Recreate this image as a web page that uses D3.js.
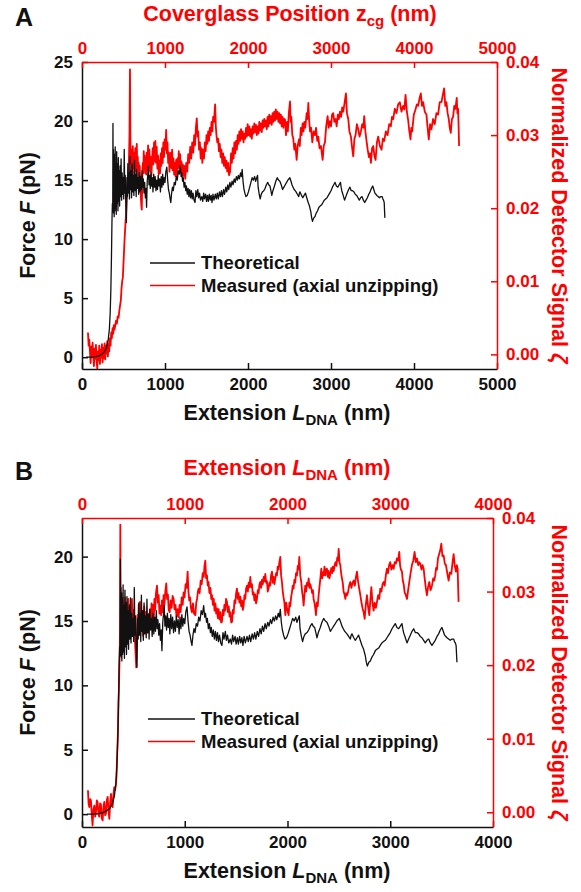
<!DOCTYPE html>
<html>
<head>
<meta charset="utf-8">
<script src="https://cdn.jsdelivr.net/npm/d3@7"></script>
<style>
  body { margin: 0; background: #fff; }
  svg text { font-family: "Liberation Sans", Arial, Helvetica, sans-serif; font-weight: bold; }
</style>
</head>
<body>
<svg id="fig" width="581" height="892"></svg>
<script>
// tick values
const forceTicksA = [0, 5, 10, 15, 20, 25];
const forceTicksB = [0, 5, 10, 15, 20];
const signalTicks = [0, 0.01, 0.02, 0.03, 0.04];
const extTicksA = [0, 1000, 2000, 3000, 4000, 5000];
const extTicksB = [0, 1000, 2000, 3000, 4000];

// theoretical force vs extension L_DNA (nm, pN) - same curve in both panels
const theoretical = [
  [50,0],[100,0],[150,0.03],[200,0.1],[240,0.25],[270,0.45],[295,0.8],[315,1.4],[330,2.4],[340,3.8],[348,5.8],[355,8.5],[361,11.5],[366,13],[370,12.3],[373,19.8],[376,13.5],[379,17.6],[382,12.2],[385,17.2],[388,11.9],[392,16.8],[396,12.4],[400,17.8],[404,12.6],[408,16.2],[413,12.1],[418,17.4],[423,13],[428,16.4],[433,12.4],[438,16.9],[443,13.2],[448,15.8],[453,12.8],[459,16.2],[465,13.6],[471,16.8],[477,13.3],[484,15.6],[490,13.8],[497,15.2],[503,13.4],[509,17.6],[515,13.9],[521,15.4],[528,12.8],[535,11.4],[541,15.2],[547,13.6],[553,16.4],[559,13.9],[566,15.6],[572,13.4],[578,17],[584,14.2],[590,15.8],[597,13.5],[604,16.4],[611,14],[618,15.4],[625,13.7],[632,16.7],[639,14.1],[646,15.5],[653,13.6],[660,15.9],[667,14.3],[675,15.2],[683,13.8],[691,15.6],[699,14],[707,15.3],[715,14.2],[723,15.8],[731,14.4],[739,15.1],[747,13.9],[755,14.8],[763,13.5],[771,14.3],[778,12.7],[786,14.9],[793,15.5],[800,16.2],[807,14.6],[815,15.4],[823,14.3],[831,15.6],[839,14.5],[847,15.2],[855,14],[864,15.5],[873,14.4],[882,15.3],[891,14.1],[900,15],[909,14.2],[918,15.4],[927,14.5],[936,15.1],[945,14],[954,15.3],[963,14.4],[972,15.5],[981,14.6],[990,15.2],[1000,14.8],[1010,15.7],[1022,16.1],[1032,15],[1042,14.2],[1052,13.9],[1062,13.4],[1070,13.1],[1080,13.9],[1090,14.4],[1100,14.1],[1112,14.8],[1124,14.6],[1136,15.3],[1148,15],[1160,15.8],[1172,15.5],
  [1184,16.2],[1194,15.3],[1202,15.6],[1212,14.9],[1220,15.2],[1230,14.4],[1240,14.8],[1250,14.1],[1258,14.5],[1268,13.8],[1278,14.3],[1288,13.6],[1298,14.2],[1308,13.5],[1318,14.1],[1328,13.4],[1338,13.9],[1350,13.3],[1362,13.1],[1372,14.1],[1382,13.6],[1395,14.2],[1405,13.5],[1416,13.9],[1428,13.3],[1443,13.6],[1455,13.2],[1466,13.9],[1476,13.4],[1490,13.8],[1500,13.2],[1512,13.7],[1522,13.2],[1534,13.8],[1545,13.3],[1556,13.7],[1566,13.1],[1578,13.8],[1590,13.3],[1606,13.8],[1618,13.4],[1630,13.9],[1642,13.4],[1656,14],[1668,13.6],[1680,14.1],[1692,13.6],[1706,14.2],[1718,13.8],[1732,14.4],[1744,14],[1756,14.6],[1768,14.2],[1782,14.8],[1794,14.4],[1808,14.9],[1820,14.6],[1834,15.1],[1846,14.8],[1860,15.3],[1872,15],[1884,15.4],[1896,15.1],[1910,15.6],[1920,15.3],[1930,15.9],
  [1940,14.9],[1950,14.3],[1962,13.9],[1975,13.6],[1990,13.7],[2005,14],[2020,14.4],[2035,14.8],[2050,15.2],[2065,15],[2080,15.3],[2092,14.9],[2105,15.2],[2115,15.4],[2122,14.4],[2135,13.8],[2147,13.4],[2160,13.8],[2173,14],[2190,14.1],[2206,14.3],[2222,14.6],[2238,14.8],[2250,14.6],[2264,14.5],[2276,14.1],[2287,13.7],[2300,14.1],[2319,14.5],[2335,14.9],[2352,15.2],[2368,15],[2384,14.9],[2400,14.6],[2417,14.2],[2433,14.4],[2449,14.6],[2465,14.8],[2480,15],[2504,15.2],[2518,14.9],[2530,14.6],[2543,14.4],[2556,14.2],[2568,14.1],[2579,14],[2595,13.8],[2611,13.6],[2620,13.9],[2627,14],[2645,13.7],[2660,13.5],[2676,13.7],[2692,13.9],[2708,13.5],[2725,13.1],[2741,12.8],[2757,12.3],[2767,11.8],[2777,11.5],[2792,11.8],[2806,11.9],[2822,12.2],[2838,12.4],[2855,12.7],[2870,12.8],[2887,12.9],[2903,13.1],[2919,13.3],[2935,13.4],[2952,13.5],[2968,13.7],[2984,13.9],[3000,14.1],[3017,14.4],[3033,14.6],[3049,14.8],[3065,14.5],[3082,14.4],[3098,14.6],[3114,14.8],[3122,14.4],[3130,14.1],[3147,13.7],[3163,13.3],[3179,13.6],[3195,13.9],[3212,14.2],[3228,14.4],[3244,14.1],[3260,14.1],[3276,14],[3292,13.8],[3309,13.7],[3325,13.5],[3341,13.3],[3357,13.5],[3374,13.6],[3390,13.3],[3406,13.1],[3422,13.3],[3438,13.5],[3455,13.8],[3471,14],[3487,14.3],[3503,14.5],[3516,14.2],[3529,13.9],[3541,13.8],[3552,13.7],[3568,13.6],[3584,13.5],[3600,13.6],[3617,13.6],[3625,13.4],[3633,13.3],[3641,13.1],[3649,11.8]
];

// measured detector signal vs coverglass position z_cg (panel A)
const measuredA = [
  [72,0.0030],[80,0.0012],[88,0.0020],[96,0.0004],[104,-0.0012],[112,0.0011],[120,-0.0004],[128,0.0016],[136,-0.0002],[144,-0.0016],[152,0.0008],[160,-0.0006],[168,0.0013],[176,-0.0010],[184,-0.0019],[192,0.0004],[200,-0.0008],[208,0.0012],[216,-0.0013],[224,0.0006],[232,-0.0004],[240,0.0014],[248,-0.0011],[256,0.0009],[264,-0.0005],[272,0.0015],[280,-0.0007],[288,0.0012],[296,0.0001],[304,0.0018],[312,-0.0003],[320,0.0014],[328,0.0004],[336,0.0022],[344,0.0012],[352,0.0030],[360,0.0022],[368,0.0036],[376,0.0028],[384,0.0040],[392,0.0034],[400,0.0039],[410,0.0046],[420,0.0042],[430,0.0052],[440,0.0050],[450,0.0060],[460,0.0068],[468,0.0074],[476,0.0090],[484,0.0100],[492,0.0105],[500,0.0125],[506,0.0140],[512,0.0155],[518,0.0168],[524,0.0180],[532,0.0194],[540,0.0215],[546,0.0228],[552,0.0240],[560,0.0252],[566,0.0268],[572,0.0300],[578,0.0390],[583,0.0295],
  [588,0.0262],[594,0.0280],[600,0.0248],[606,0.0272],[612,0.0285],[618,0.0255],[624,0.0276],[630,0.0245],[636,0.0268],[642,0.0282],[648,0.0250],[654,0.0275],[660,0.0288],[666,0.0255],[672,0.0270],[678,0.0242],[684,0.0262],[690,0.0238],[696,0.0258],[702,0.0232],[708,0.0218],[714,0.0205],[720,0.0198],[726,0.0235],[732,0.0262],[738,0.0248],[744,0.0278],[750,0.0255],[756,0.0272],[762,0.0248],[768,0.0268],[774,0.0246],[780,0.0276],[788,0.0252],[796,0.0286],[804,0.0260],[812,0.0280],[820,0.0250],[828,0.0270],[836,0.0244],[844,0.0266],[852,0.0282],[860,0.0260],[868,0.0290],[876,0.0264],[884,0.0292],[892,0.0262],[900,0.0284],[908,0.0254],[916,0.0272],[924,0.0246],[932,0.0265],[940,0.0248],[948,0.0275],[956,0.0258],[964,0.0282],[972,0.0262],[980,0.0290],[988,0.0270],[996,0.0294],[1004,0.0280],[1014,0.0307],[1022,0.0275],[1030,0.0290],[1038,0.0262],[1046,0.0276],[1054,0.0250],[1062,0.0270],[1070,0.0276],[1078,0.0255],[1086,0.0280],[1094,0.0252],[1102,0.0268],[1110,0.0246],[1118,0.0262],[1126,0.0244],[1134,0.0266],[1142,0.0240],[1150,0.0268],[1158,0.0254],[1166,0.0278],[1174,0.0256],[1182,0.0274],[1190,0.0250],[1198,0.0264],[1206,0.0246],[1214,0.0260],[1222,0.0244],[1232,0.0258],[1244,0.0240],[1256,0.0262],[1268,0.0250],[1280,0.0274],[1292,0.0262],[1304,0.0284],[1316,0.0268],[1328,0.0290],[1340,0.0276],[1352,0.0300],[1362,0.0286],[1372,0.0310],[1383,0.0323],[1392,0.0298],[1400,0.0305],[1410,0.0280],[1420,0.0290],[1430,0.0268],[1440,0.0282],[1450,0.0262],[1460,0.0280],[1470,0.0268],[1480,0.0290],[1490,0.0278],[1500,0.0300],[1510,0.0288],[1520,0.0305],[1530,0.0292],[1540,0.0310],[1550,0.0300],[1560,0.0318],[1570,0.0305],[1580,0.0325],[1590,0.0318],[1604,0.0342],[1612,0.0312],[1620,0.0300],[1630,0.0290],[1640,0.0295],[1650,0.0278],[1660,0.0288],[1670,0.0270],[1680,0.0280],[1690,0.0262],[1700,0.0275],[1710,0.0258],[1720,0.0270],[1730,0.0255],[1740,0.0265],[1750,0.0250],[1760,0.0262],[1772,0.0245],[1784,0.0250],[1796,0.0275],[1806,0.0262],[1816,0.0282],[1826,0.0268],[1836,0.0290],[1846,0.0275],[1856,0.0292],[1866,0.0280],[1876,0.0300],[1886,0.0288],[1896,0.0305],[1906,0.0292],[1916,0.0308],[1926,0.0295],[1936,0.0305],[1946,0.0290],[1956,0.0302],[1966,0.0295],[1976,0.0310],[1986,0.0298],[1996,0.0315],[2006,0.0300],[2016,0.0312],[2026,0.0298],[2036,0.0308],[2046,0.0295],[2056,0.0312],[2066,0.0302],[2076,0.0316],[2086,0.0304],[2096,0.0314],[2106,0.0300],[2116,0.0312],[2126,0.0302],[2136,0.0318],[2146,0.0306],[2156,0.0316],[2166,0.0304],[2176,0.0320],[2186,0.0310],[2196,0.0322],[2206,0.0312],[2216,0.0320],[2226,0.0308],[2236,0.0325],[2246,0.0312],[2256,0.0328],[2266,0.0316],[2276,0.0326],[2286,0.0314],[2296,0.0330],[2306,0.0318],[2316,0.0332],[2326,0.0320],[2336,0.0335],[2346,0.0322],[2356,0.0332],[2366,0.0318],[2376,0.0330],[2386,0.0316],[2396,0.0328],[2406,0.0312],[2416,0.0325],[2426,0.0310],[2436,0.0322],
  [2446,0.0321],[2458,0.0300],[2470,0.0318],[2480,0.0305],[2492,0.0330],[2506,0.0346],[2514,0.0318],[2522,0.0325],[2534,0.0300],[2546,0.0295],[2558,0.0280],[2570,0.0288],[2586,0.0266],[2598,0.0285],[2614,0.0294],[2624,0.0285],[2636,0.0310],[2646,0.0300],[2658,0.0316],[2668,0.0305],[2679,0.0318],[2690,0.0310],[2707,0.0330],[2716,0.0322],[2727,0.0344],[2737,0.0320],[2747,0.0305],[2760,0.0310],[2775,0.0290],[2790,0.0305],[2807,0.0300],[2820,0.0310],[2834,0.0292],[2847,0.0298],[2862,0.0282],[2879,0.0285],[2899,0.0266],[2912,0.0285],[2927,0.0290],[2942,0.0312],[2959,0.0326],[2972,0.0310],[2987,0.0319],[3000,0.0312],[3013,0.0328],[3027,0.0330],[3040,0.0318],[3055,0.0322],[3068,0.0312],[3082,0.0328],[3095,0.0322],[3108,0.0332],[3122,0.0325],[3135,0.0338],[3148,0.0332],[3165,0.0345],[3180,0.0357],[3192,0.0330],[3208,0.0322],[3222,0.0305],[3240,0.0298],[3252,0.0285],[3268,0.0271],[3282,0.0295],[3296,0.0300],[3312,0.0315],[3328,0.0308],[3344,0.0298],[3360,0.0305],[3376,0.0315],[3390,0.0310],[3400,0.0326],[3414,0.0305],[3428,0.0292],[3442,0.0280],[3457,0.0270],[3470,0.0275],[3481,0.0262],[3495,0.0282],[3509,0.0285],[3523,0.0272],[3537,0.0266],[3553,0.0290],[3569,0.0298],[3589,0.0285],[3609,0.0280],[3625,0.0295],[3641,0.0292],[3661,0.0305],[3681,0.0300],[3701,0.0315],[3721,0.0312],[3735,0.0325],[3749,0.0322],[3769,0.0336],[3789,0.0330],[3809,0.0342],[3829,0.0345],[3849,0.0332],[3869,0.0340],[3884,0.0335],[3898,0.0355],[3914,0.0332],[3930,0.0320],[3944,0.0305],[3958,0.0294],[3968,0.0310],[3978,0.0305],[3998,0.0328],[4018,0.0335],[4034,0.0342],[4050,0.0340],[4066,0.0350],[4082,0.0357],[4096,0.0340],[4110,0.0345],[4130,0.0332],[4150,0.0328],[4164,0.0310],[4178,0.0294],[4194,0.0315],[4210,0.0308],[4230,0.0322],[4250,0.0315],[4270,0.0330],[4290,0.0328],[4310,0.0345],[4331,0.0345],[4347,0.0355],[4363,0.0364],[4377,0.0340],[4391,0.0345],[4405,0.0330],[4419,0.0322],[4431,0.0310],[4443,0.0303],[4457,0.0322],[4471,0.0325],[4485,0.0340],[4499,0.0336],[4515,0.0351],[4523,0.0330],[4531,0.0336],[4538,0.0310],[4543,0.0285]
];

// measured detector signal vs extension L_DNA (panel B)
const measuredB = [
  [58,0.0030],[64,0.0012],[71,0.0007],[79,0.0018],[87,0.0016],[95,-0.0004],[103,-0.0018],[111,0.0004],[120,0.0009],[128,-0.0006],[136,0.0000],[144,0.0016],[152,0.0014],[160,-0.0002],[168,-0.0006],[176,0.0012],[184,0.0011],[192,-0.0008],[201,-0.0011],[209,0.0008],[217,0.0014],[225,-0.0004],[233,-0.0002],[241,0.0016],[250,0.0021],[258,0.0002],[266,-0.0009],[274,0.0012],[282,0.0025],[290,0.0010],[298,0.0007],[306,0.0024],[314,0.0034],[322,0.0030],[331,0.0039],[336,0.0050],[340,0.0070],[345,0.0090],[350,0.0111],[355,0.0150],[360,0.0170],[364,0.0200],[367,0.0215],[370,0.0250],[373,0.0391],
  [376,0.0290],[379,0.0238],[382,0.0282],[385,0.0228],[388,0.0276],[391,0.0232],[395,0.0288],[399,0.0240],[403,0.0270],[407,0.0228],[411,0.0282],[415,0.0245],[420,0.0292],[425,0.0250],[430,0.0278],[435,0.0238],[440,0.0285],[445,0.0252],[450,0.0290],[456,0.0255],[462,0.0282],[468,0.0245],[474,0.0276],[480,0.0250],[486,0.0290],[492,0.0258],[498,0.0275],[504,0.0245],[510,0.0262],[516,0.0232],[522,0.0215],[528,0.0197],[534,0.0235],[540,0.0268],[546,0.0250],[552,0.0282],[558,0.0258],[564,0.0286],[570,0.0255],[576,0.0272],[582,0.0246],[588,0.0265],[594,0.0240],[600,0.0262],[606,0.0280],[612,0.0252],[618,0.0272],[624,0.0248],[630,0.0266],[636,0.0244],[642,0.0262],[649,0.0270],[656,0.0250],[663,0.0276],[670,0.0258],[677,0.0284],[684,0.0262],[691,0.0282],[698,0.0260],[705,0.0290],[712,0.0275],[720,0.0298],[730,0.0308],[738,0.0285],[746,0.0295],[754,0.0270],[762,0.0281],[770,0.0268],[778,0.0288],[786,0.0272],[794,0.0295],[802,0.0282],[811,0.0300],[820,0.0311],[828,0.0290],[836,0.0296],[844,0.0275],[853,0.0272],[862,0.0288],[872,0.0278],[882,0.0294],[892,0.0290],[900,0.0276],[910,0.0282],[920,0.0266],[930,0.0276],[940,0.0265],[950,0.0282],[960,0.0272],[970,0.0292],[980,0.0282],[989,0.0299],[998,0.0292],[1008,0.0310],[1018,0.0305],[1028,0.0327],[1036,0.0300],[1044,0.0288],[1052,0.0292],[1060,0.0278],[1070,0.0272],[1080,0.0284],[1090,0.0270],[1103,0.0268],[1112,0.0285],[1120,0.0290],[1128,0.0300],[1135,0.0304],[1145,0.0298],[1155,0.0315],[1165,0.0310],[1175,0.0325],[1185,0.0320],[1192,0.0335],[1200,0.0342],[1208,0.0318],[1216,0.0322],[1224,0.0308],[1232,0.0313],[1240,0.0298],[1250,0.0305],[1258,0.0290],[1265,0.0295],[1274,0.0282],[1282,0.0290],[1290,0.0274],[1298,0.0284],[1306,0.0270],[1314,0.0277],[1322,0.0264],[1330,0.0276],[1338,0.0262],[1346,0.0272],[1354,0.0258],[1362,0.0259],[1370,0.0275],[1378,0.0268],[1386,0.0282],[1394,0.0274],[1402,0.0290],[1411,0.0286],[1420,0.0272],[1428,0.0280],[1436,0.0266],[1444,0.0272],[1452,0.0258],[1460,0.0259],[1468,0.0275],[1476,0.0270],[1484,0.0288],[1492,0.0284],[1500,0.0298],[1508,0.0304],[1516,0.0290],[1524,0.0298],[1532,0.0285],[1541,0.0293],[1549,0.0280],[1557,0.0288],[1565,0.0275],[1573,0.0281],[1581,0.0295],[1589,0.0290],[1597,0.0304],[1606,0.0308],[1614,0.0300],[1622,0.0312],[1630,0.0306],[1638,0.0320],[1646,0.0306],[1654,0.0310],[1662,0.0296],[1670,0.0299],[1678,0.0288],[1686,0.0296],[1694,0.0284],[1703,0.0290],[1711,0.0302],[1719,0.0298],[1727,0.0310],[1735,0.0313],[1743,0.0305],[1751,0.0316],[1760,0.0310],[1768,0.0320],[1776,0.0314],[1784,0.0324],[1792,0.0312],[1800,0.0314],[1808,0.0300],[1816,0.0304],[1824,0.0312],[1832,0.0308],[1840,0.0322],[1849,0.0327],[1857,0.0312],[1865,0.0320],[1873,0.0310],[1881,0.0318],[1889,0.0325],[1897,0.0322],[1905,0.0334],[1913,0.0330],[1921,0.0340],[1930,0.0347],[1938,0.0322],[1946,0.0313],[1954,0.0300],[1962,0.0292],[1969,0.0286],
  [1979,0.0268],[1987,0.0285],[1995,0.0278],[2003,0.0272],[2011,0.0268],[2019,0.0285],[2027,0.0280],[2035,0.0292],[2043,0.0299],[2051,0.0308],[2059,0.0304],[2067,0.0316],[2075,0.0312],[2083,0.0325],[2092,0.0322],[2100,0.0335],[2107,0.0330],[2115,0.0347],[2124,0.0322],[2134,0.0313],[2142,0.0300],[2150,0.0292],[2157,0.0281],[2165,0.0296],[2173,0.0308],[2181,0.0300],[2190,0.0312],[2198,0.0308],[2206,0.0318],[2214,0.0305],[2222,0.0310],[2232,0.0304],[2240,0.0298],[2247,0.0302],[2254,0.0290],[2262,0.0285],[2270,0.0278],[2277,0.0268],[2285,0.0285],[2294,0.0280],[2303,0.0295],[2311,0.0306],[2320,0.0318],[2329,0.0331],[2337,0.0318],[2344,0.0326],[2352,0.0322],[2360,0.0334],[2368,0.0322],[2376,0.0330],[2384,0.0331],[2392,0.0320],[2400,0.0328],[2408,0.0318],[2417,0.0324],[2426,0.0332],[2434,0.0325],[2442,0.0334],[2450,0.0328],[2459,0.0336],[2468,0.0340],[2476,0.0335],[2484,0.0346],[2491,0.0342],[2498,0.0358],[2506,0.0340],[2514,0.0336],[2522,0.0325],[2530,0.0318],[2538,0.0312],[2546,0.0300],[2555,0.0296],[2563,0.0290],[2571,0.0298],[2580,0.0295],[2589,0.0299],[2600,0.0308],[2611,0.0313],[2622,0.0305],[2633,0.0312],[2644,0.0315],[2655,0.0308],[2666,0.0320],[2676,0.0327],[2686,0.0315],[2697,0.0305],[2709,0.0295],[2720,0.0285],[2731,0.0277],[2741,0.0272],[2751,0.0263],[2762,0.0282],[2773,0.0295],[2784,0.0280],[2796,0.0268],[2806,0.0288],[2816,0.0306],[2827,0.0285],[2838,0.0274],[2848,0.0285],[2860,0.0278],[2871,0.0286],[2882,0.0295],[2893,0.0290],[2903,0.0304],[2914,0.0300],[2925,0.0310],[2936,0.0313],[2946,0.0308],[2957,0.0322],[2968,0.0331],[2978,0.0325],[2989,0.0336],[3000,0.0340],[3011,0.0330],[3022,0.0336],[3033,0.0331],[3044,0.0340],[3055,0.0338],[3065,0.0345],[3076,0.0342],[3088,0.0354],[3096,0.0335],[3104,0.0330],[3114,0.0327],[3122,0.0315],[3131,0.0310],[3140,0.0299],[3150,0.0296],[3163,0.0290],[3174,0.0302],[3185,0.0313],[3198,0.0325],[3211,0.0336],[3224,0.0342],[3237,0.0354],[3248,0.0340],[3260,0.0345],[3272,0.0336],[3282,0.0340],[3292,0.0338],[3304,0.0330],[3314,0.0336],[3325,0.0331],[3335,0.0318],[3346,0.0305],[3357,0.0295],[3368,0.0306],[3380,0.0313],[3392,0.0302],[3406,0.0308],[3418,0.0318],[3428,0.0315],[3438,0.0322],[3446,0.0332],[3455,0.0330],[3464,0.0345],[3474,0.0350],[3485,0.0355],[3497,0.0365],[3508,0.0348],[3520,0.0349],[3531,0.0338],[3542,0.0336],[3555,0.0325],[3568,0.0315],[3580,0.0326],[3594,0.0324],[3605,0.0338],[3617,0.0351],[3628,0.0335],[3640,0.0327],[3648,0.0336],[3656,0.0331],[3661,0.0305],[3665,0.0286]
];

const legendLabels = ["Theoretical", "Measured (axial unzipping)"];

const RED = "#ff0000";
const INK = "#111";
const svg = d3.select("#fig");
svg.append("rect").attr("width", 581).attr("height", 892).attr("fill", "#fff");

// writes a label made of parts (italic / subscript pieces)
function richText(sel, parts, subSize) {
  parts.forEach(p => {
    const t = sel.append("tspan").text(p.t);
    if (p.italic) t.attr("font-style", "italic");
    if (p.sub) t.attr("font-size", subSize).attr("dy", 5);
    if (p.after) t.attr("dy", -5);
  });
}

const panels = [
  {
    letter: "A", letterY: 26,
    left: 82, right: 497, top: 62, bottom: 369,
    xDomain: [0, 5000], xTicks: extTicksA,
    fDomain: [-1, 25], fTicks: forceTicksA,
    measured: measuredA,
    topTitle: [{ t: "Coverglass Position z" }, { t: "cg", sub: true }, { t: " (nm)", after: true }],
    topTitleY: 21, topTitleX: 290,
    legendY: 263, legendX1: 150
  },
  {
    letter: "B", letterY: 480,
    left: 82, right: 493, top: 518, bottom: 827,
    xDomain: [0, 4000], xTicks: extTicksB,
    fDomain: [-1, 23], fTicks: forceTicksB,
    measured: measuredB,
    topTitle: [{ t: "Extension " }, { t: "L", italic: true }, { t: "DNA", sub: true }, { t: " (nm)", after: true }],
    topTitleY: 475, topTitleX: 287,
    legendY: 719, legendX1: 148
  }
];

panels.forEach((p, i) => {
  const g = svg.append("g");
  const x = d3.scaleLinear().domain(p.xDomain).range([p.left, p.right]);
  const xTop = d3.scaleLinear().domain(p.xDomain).range([p.left, p.right]);
  const yF = d3.scaleLinear().domain(p.fDomain).range([p.bottom, p.top]);
  const yS = d3.scaleLinear().domain([-0.002, 0.04]).range([p.bottom, p.top]);

  const clipId = "clip" + i;
  g.append("clipPath").attr("id", clipId).append("rect")
    .attr("x", p.left).attr("y", p.top)
    .attr("width", p.right - p.left).attr("height", p.bottom - p.top);

  // measured (red) against top and right axes
  g.append("path")
    .datum(p.measured)
    .attr("clip-path", `url(#${clipId})`)
    .attr("fill", "none")
    .attr("stroke", RED)
    .attr("stroke-width", 1.8)
    .attr("stroke-linejoin", "round")
    .attr("d", d3.line().x(d => xTop(d[0])).y(d => yS(d[1])));

  // theoretical (black) against bottom and left axes
  g.append("path")
    .datum(theoretical)
    .attr("clip-path", `url(#${clipId})`)
    .attr("fill", "none")
    .attr("stroke", INK)
    .attr("stroke-width", 1.3)
    .attr("stroke-linejoin", "round")
    .attr("d", d3.line().x(d => x(d[0])).y(d => yF(d[1])));

  // axes, ticks point inward
  const axes = [
    { ax: d3.axisBottom(x).tickValues(p.xTicks).tickFormat(d3.format("d")).tickPadding(9), tr: `translate(0,${p.bottom})`, color: INK },
    { ax: d3.axisLeft(yF).tickValues(p.fTicks).tickPadding(9), tr: `translate(${p.left},0)`, color: INK },
    { ax: d3.axisTop(xTop).tickValues(p.xTicks).tickFormat(d3.format("d")).tickPadding(8), tr: `translate(0,${p.top})`, color: RED },
    { ax: d3.axisRight(yS).tickValues(signalTicks).tickFormat(d3.format(".2f")).tickPadding(9), tr: `translate(${p.right},0)`, color: RED }
  ];
  axes.forEach(a => {
    const ag = g.append("g")
      .attr("transform", a.tr)
      .call(a.ax.tickSizeInner(-6).tickSizeOuter(0));
    ag.attr("font-family", null).attr("font-size", 17).attr("color", a.color);
    ag.select(".domain").attr("stroke-width", 1.5);
    ag.selectAll(".tick line").attr("stroke-width", 1.5);
  });

  // panel letter
  g.append("text").attr("x", 15).attr("y", p.letterY)
    .attr("font-size", 25).attr("fill", INK).text(p.letter);

  // top title (red)
  const tt = g.append("text").attr("x", p.topTitleX).attr("y", p.topTitleY)
    .attr("text-anchor", "middle").attr("font-size", 21.5).attr("fill", RED);
  richText(tt, p.topTitle, 15);

  // bottom title
  const bt = g.append("text").attr("x", 287).attr("y", p.bottom + 51)
    .attr("text-anchor", "middle").attr("font-size", 21.5).attr("fill", INK);
  richText(bt, [{ t: "Extension " }, { t: "L", italic: true }, { t: "DNA", sub: true }, { t: " (nm)", after: true }], 15);

  // left title
  const cy = (p.top + p.bottom) / 2;
  const lt = g.append("text")
    .attr("transform", `translate(27,${cy}) rotate(-90)`)
    .attr("text-anchor", "middle").attr("dy", "0.35em")
    .attr("font-size", 21.5).attr("fill", INK);
  richText(lt, [{ t: "Force " }, { t: "F", italic: true }, { t: " (pN)" }], 15);

  // right title
  const rt = g.append("text")
    .attr("transform", `translate(560,${cy}) rotate(90)`)
    .attr("text-anchor", "middle").attr("dy", "0.35em")
    .attr("font-size", 21.5).attr("fill", RED);
  richText(rt, [{ t: "Normalized Detector Signal " }, { t: "ζ", italic: true }], 15);

  // legend
  const colors = [INK, RED];
  legendLabels.forEach((lab, k) => {
    const ly = p.legendY + k * 22.5;
    g.append("line").attr("x1", p.legendX1).attr("x2", 195)
      .attr("y1", ly).attr("y2", ly)
      .attr("stroke", colors[k]).attr("stroke-width", 1.5);
    g.append("text").attr("x", 201).attr("y", ly).attr("dy", "0.35em")
      .attr("font-size", 18.5).attr("fill", INK).text(lab);
  });
});
</script>
</body>
</html>
